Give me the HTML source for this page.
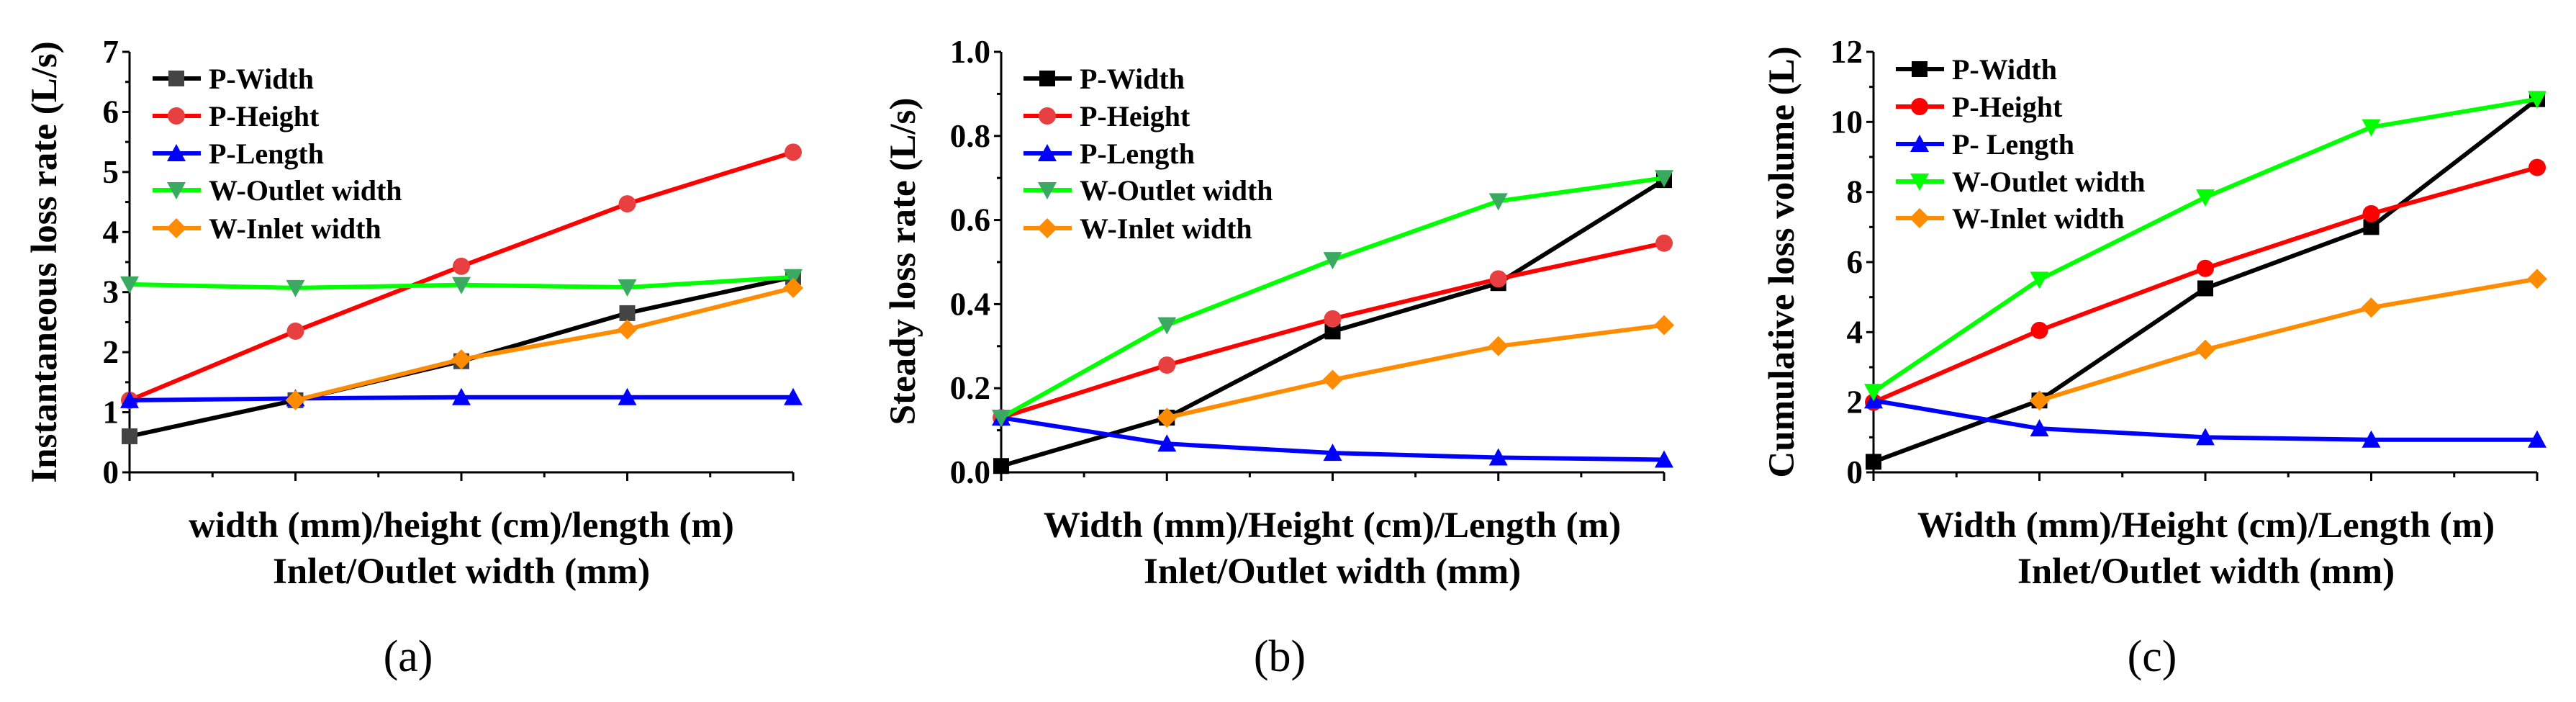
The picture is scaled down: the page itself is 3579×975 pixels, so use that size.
<!DOCTYPE html>
<html><head><meta charset="utf-8"><style>
html,body{margin:0;padding:0;background:#fff}
svg{display:block}
text{font-family:"Liberation Serif",serif;font-weight:bold;fill:#000}
text.plab{font-weight:normal}
</style></head><body>
<svg id="fig" width="3579" height="975" viewBox="0 0 3579 975" xmlns="http://www.w3.org/2000/svg"></svg>
<script>
const categories = [1, 2, 3, 4, 5];
const seriesNames = ["P-Width", "P-Height", "P-Length", "W-Outlet width", "W-Inlet width"];
const seriesNamesC = ["P-Width", "P-Height", "P- Length", "W-Outlet width", "W-Inlet width"];
// Panel a
const aWidth = [0.6, 1.2, 1.85, 2.65, 3.25];
const aHeight = [1.2, 2.35, 3.43, 4.47, 5.33];
const aLength = [1.2, 1.23, 1.25, 1.25, 1.25];
const aOutlet = [3.13, 3.07, 3.12, 3.08, 3.25];
const aInlet = [null, 1.2, 1.88, 2.38, 3.07];
const aTicks = ["0", "1", "2", "3", "4", "5", "6", "7"];
// Panel b
const bWidth = [0.015, 0.13, 0.335, 0.45, 0.695];
const bHeight = [0.13, 0.255, 0.365, 0.46, 0.545];
const bLength = [0.13, 0.068, 0.046, 0.035, 0.03];
const bOutlet = [0.13, 0.35, 0.505, 0.645, 0.70];
const bInlet = [null, 0.13, 0.22, 0.30, 0.35];
const bTicks = ["0.0", "0.2", "0.4", "0.6", "0.8", "1.0"];
// Panel c
const cWidth = [0.3, 2.05, 5.25, 7.0, 10.65];
const cHeight = [2.0, 4.05, 5.82, 7.38, 8.7];
const cLength = [2.05, 1.25, 1.0, 0.93, 0.93];
const cOutlet = [2.3, 5.5, 7.85, 9.85, 10.65];
const cInlet = [null, 2.05, 3.5, 4.7, 5.52];
const cTicks = ["0", "2", "4", "6", "8", "10", "12"];

const NS = "http://www.w3.org/2000/svg";
const svg = document.getElementById("fig");
function mk(tag, attrs, parent) {
  const e = document.createElementNS(NS, tag);
  for (const k in attrs) e.setAttribute(k, attrs[k]);
  (parent || svg).appendChild(e);
  return e;
}
function marker(g, type, cx, cy, fill) {
  const s = 11;
  let m;
  if (type === "square") m = mk("rect", {x: cx - s, y: cy - s, width: 2 * s, height: 2 * s, fill: fill}, g);
  else if (type === "circle") m = mk("circle", {cx: cx, cy: cy, r: s + 1, fill: fill}, g);
  else if (type === "up") m = mk("polygon", {points: `${cx},${cy - s - 2} ${cx - s - 2},${cy + s} ${cx + s + 2},${cy + s}`, fill: fill}, g);
  else if (type === "down") m = mk("polygon", {points: `${cx},${cy + s + 2} ${cx - s - 2},${cy - s} ${cx + s + 2},${cy - s}`, fill: fill}, g);
  else m = mk("polygon", {points: `${cx},${cy - s - 3} ${cx + s + 3},${cy} ${cx},${cy + s + 3} ${cx - s - 3},${cy}`, fill: fill}, g);
  return m;
}
function panel(p) {
  const g = mk("g", {});
  
  
  const y0 = 656, y1 = 72;
  const ymax = p.ymax;
  const X = i => p.x0 + (p.x1 - p.x0) * (categories[i] - categories[0]) / (categories[categories.length - 1] - categories[0]);
  const Y = v => y0 - (y0 - y1) * v / ymax;
  const ax = mk("path", {d: `M${p.x0},${y1} V${y0} H${p.x1}`, stroke: "#000", "stroke-width": 3, fill: "none"}, g);
  
  
  const n = p.ticks.length - 1;
  for (let i = 0; i <= n; i++) {
    const v = ymax * i / n, y = Y(v);
    mk("line", {x1: p.x0 - 10, x2: p.x0, y1: y, y2: y, stroke: "#000", "stroke-width": 3}, g);
    if (i < n) { const ym = Y(v + ymax / n / 2); mk("line", {x1: p.x0 - 6, x2: p.x0, y1: ym, y2: ym, stroke: "#000", "stroke-width": 3}, g); }
    const t = mk("text", {x: p.x0 - 15, y: y + 15, "text-anchor": "end", "font-size": 45}, g);
    t.textContent = p.ticks[i];
    
    
  }
  for (let i = 0; i < categories.length; i++) {
    const x = X(i);
    mk("line", {x1: x, x2: x, y1: y0, y2: y0 + 12, stroke: "#000", "stroke-width": 3}, g);
    if (i < categories.length - 1) { const xm = (x + X(i + 1)) / 2; mk("line", {x1: xm, x2: xm, y1: y0, y2: y0 + 7, stroke: "#000", "stroke-width": 3}, g); }
  }
  const yt = mk("text", {x: 0, y: 0, "text-anchor": "middle", "font-size": 51, transform: `translate(${p.ytx},${p.yty}) rotate(-90)`}, g);
  yt.textContent = p.ytitle;
  
  
  const xt1 = mk("text", {x: p.xtx, y: 746, "text-anchor": "middle", "font-size": 51}, g);
  xt1.textContent = p.xtitle;
  
  
  const xt2 = mk("text", {x: p.xtx, y: 810, "text-anchor": "middle", "font-size": 51}, g);
  xt2.textContent = "Inlet/Outlet width (mm)";
  
  
  const lab = mk("text", {x: p.labx, y: 932, "text-anchor": "middle", "font-size": 62, "class": "plab"}, g);
  lab.textContent = "(" + p.id + ")";
  
  
  p.series.forEach((s, si) => {
    const sg = mk("g", {}, g);
    
    
    let d = "";
    s.data.forEach((v, i) => { if (v === null) return; d += (d ? "L" : "M") + X(i) + "," + Y(v); });
    mk("path", {d: d, stroke: s.line, "stroke-width": 6, fill: "none", "stroke-linejoin": "round"}, sg);
    s.data.forEach((v, i) => {
      if (v === null) return;
      const m = marker(sg, s.type, X(i), Y(v), s.mark);
      
      
    });
    const ly = p.legY[si];
    const lg = mk("g", {}, g);
    
    
    mk("line", {x1: p.legX, x2: p.legX + 67, y1: ly, y2: ly, stroke: s.line, "stroke-width": 6}, lg);
    marker(lg, s.type, p.legX + 33, ly, s.mark);
    const lt = mk("text", {x: p.legX + 78, y: ly + 14, "font-size": 40}, lg);
    lt.textContent = s.name;
  });
}
function S(names, arrs, marks) {
  const lines = ["#000", "#ff0000", "#0000ff", "#00ff00", "#ff8c00"];
  const types = ["square", "circle", "up", "down", "diamond"];
  return arrs.map((a, i) => ({name: names[i], data: a, line: lines[i], mark: marks[i], type: types[i]}));
}
panel({id: "a", x0: 180, x1: 1102, ymax: 7, ticks: aTicks, ytitle: "Instantaneous loss rate (L/s)", ytx: 78, yty: 364,
  xtitle: "width (mm)/height (cm)/length (m)", xtx: 641, labx: 567, legX: 212, legY: [109, 161, 213, 264, 317],
  series: S(seriesNames, [aWidth, aHeight, aLength, aOutlet, aInlet], ["#444", "#e84040", "#0000ff", "#3aaa60", "#ff8c00"])});
panel({id: "b", x0: 1391, x1: 2312, ymax: 1, ticks: bTicks, ytitle: "Steady loss rate (L/s)", ytx: 1271, yty: 363,
  xtitle: "Width (mm)/Height (cm)/Length (m)", xtx: 1851, labx: 1778, legX: 1422, legY: [109, 161, 213, 264, 317],
  series: S(seriesNames, [bWidth, bHeight, bLength, bOutlet, bInlet], ["#000", "#e84040", "#0000ff", "#3aaa60", "#ff8c00"])});
panel({id: "c", x0: 2603, x1: 3525, ymax: 12, ticks: cTicks, ytitle: "Cumulative loss volume (L)", ytx: 2492, yty: 364,
  xtitle: "Width (mm)/Height (cm)/Length (m)", xtx: 3065, labx: 2990, legX: 2634, legY: [96, 148, 200, 252, 303],
  series: S(seriesNamesC, [cWidth, cHeight, cLength, cOutlet, cInlet], ["#000", "#ff0000", "#0000ff", "#00ff00", "#ff8c00"])});
</script>
</body></html>
